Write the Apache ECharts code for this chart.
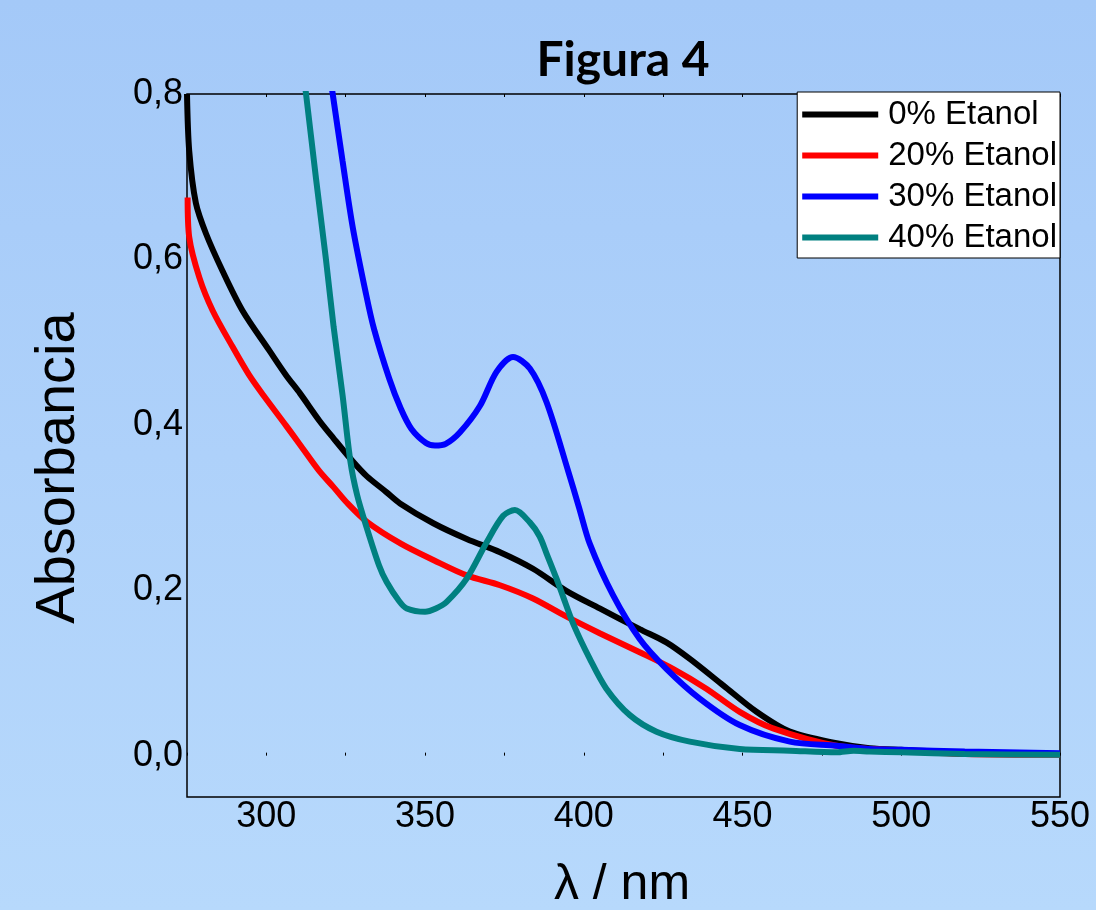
<!DOCTYPE html>
<html>
<head>
<meta charset="utf-8">
<title>Figura 4</title>
<script src="https://cdn.jsdelivr.net/npm/echarts@6/dist/echarts.min.js"></script>
<style>
  html, body { margin: 0; padding: 0; }
  body { background: linear-gradient(180deg, #a4c9f8 0%, #aed1fa 50%, #b7d9fc 100%); }
  #chart { width: 1096px; height: 910px; }
</style>
</head>
<body>
<div id="chart"></div>
<script>
// wavelength (nm) / absorbance pairs
const wl0 = [275, 275.7, 277.8, 281, 286.2, 292.5, 300.9, 306.2, 310.6, 316.7, 321.1, 327.4, 331.6, 337.7, 342.1, 352.6, 363.1, 373.6, 384, 394.6, 405, 417.6, 426, 433.4, 443.9, 454.4, 464.9, 479.6, 490, 500, 520, 550]
const abs0 = [0.800, 0.731, 0.668, 0.631, 0.586, 0.538, 0.490, 0.460, 0.438, 0.405, 0.384, 0.355, 0.338, 0.319, 0.305, 0.281, 0.262, 0.246, 0.226, 0.199, 0.178, 0.153, 0.137, 0.117, 0.085, 0.053, 0.029, 0.015, 0.009, 0.007, 0.004, 0.002]

const wl20 = [275.2, 275.7, 278.9, 283.1, 289.4, 294.6, 299, 306.2, 310.6, 316.7, 321.1, 325.1, 331.6, 342.5, 352.9, 363.1, 373.6, 384, 394.6, 405, 417.6, 428.1, 438.6, 449.1, 459.6, 479.6, 500, 520, 550]
const abs20 = [0.675, 0.627, 0.578, 0.538, 0.494, 0.460, 0.436, 0.399, 0.376, 0.344, 0.325, 0.307, 0.283, 0.256, 0.236, 0.218, 0.206, 0.190, 0.168, 0.148, 0.125, 0.105, 0.081, 0.053, 0.033, 0.012, 0.006, 0.002, 0.001]

const wl30 = [319.8, 320.9, 324, 327.2, 331.4, 333.9, 338.7, 342.3, 345.7, 350.3, 353.1, 356.5, 361, 367.3, 372.5, 377.7, 383, 388.3, 395, 398.5, 401.9, 409.2, 417.6, 426, 436.5, 449.1, 464.9, 479.6, 490, 500, 520, 550]
const abs30 = [0.830, 0.800, 0.719, 0.639, 0.558, 0.516, 0.456, 0.420, 0.395, 0.378, 0.375, 0.377, 0.391, 0.423, 0.464, 0.482, 0.468, 0.427, 0.345, 0.300, 0.256, 0.194, 0.141, 0.105, 0.069, 0.037, 0.017, 0.012, 0.008, 0.007, 0.005, 0.003]

const wl40 = [311.5, 312.5, 315.6, 318.8, 321.2, 324, 326.5, 328.6, 331.5, 335.5, 337.9, 341.8, 344.2, 350, 353.4, 356.8, 363.1, 369.4, 374.6, 378.3, 383, 386.1, 388.3, 391.4, 393.5, 396.6, 401.9, 407.1, 414.5, 422.9, 433.4, 449.1, 464.9, 479.6, 485, 490, 500, 520, 550]
const abs40 = [0.830, 0.800, 0.699, 0.599, 0.518, 0.436, 0.355, 0.315, 0.277, 0.230, 0.210, 0.187, 0.178, 0.174, 0.178, 0.186, 0.214, 0.258, 0.290, 0.297, 0.282, 0.265, 0.244, 0.214, 0.192, 0.160, 0.117, 0.081, 0.049, 0.029, 0.017, 0.008, 0.006, 0.004, 0.006, 0.005, 0.004, 0.002, 0.001]

const names = ['0% Etanol', '20% Etanol', '30% Etanol', '40% Etanol']
const colors = ['#000000', '#ff0000', '#0000ff', '#008080']
const xTicks = [300, 350, 400, 450, 500, 550]
const yTicks = [0, 0.2, 0.4, 0.6, 0.8]

const font = '"Liberation Sans", Arial, sans-serif'

function pairs(xs, ys) {
  return xs.map((x, i) => [x, ys[i]])
}

const chart = echarts.init(document.getElementById('chart'), null, { renderer: 'canvas' })

const series = [
  pairs(wl0, abs0), pairs(wl20, abs20), pairs(wl30, abs30), pairs(wl40, abs40),
].map((d, i) => ({
  name: names[i],
  type: 'line',
  data: d,
  symbol: 'none',
  smooth: 0.3,
  clip: true,
  lineStyle: { color: colors[i], width: 6 },
  itemStyle: { color: colors[i] },
}))

chart.setOption({
  animation: false,
  grid: {
    left: 187, right: 36, top: 94, bottom: 113,
    show: true, borderColor: '#000', borderWidth: 1.5, backgroundColor: 'transparent',
  },
  legend: {
    orient: 'vertical',
    right: 36,
    top: 92,
    data: names,
    icon: 'rect',
    itemWidth: 76,
    itemHeight: 6,
    itemGap: 8,
    padding: [6, 3, 4, 5],
    backgroundColor: '#ffffff',
    borderColor: '#000',
    borderWidth: 1,
    textStyle: { fontFamily: font, fontSize: 33, color: '#000', padding: [0, 0, 0, 5] },
  },
  xAxis: [{
    type: 'value',
    min: 275, max: 550, interval: 25,
    axisLine: { show: false },
    axisTick: { show: true, inside: true, length: 3, lineStyle: { color: '#000', width: 1 } },
    splitLine: { show: false },
    axisLabel: {
      fontFamily: font, fontSize: 36, color: '#000', margin: 2,
      formatter: v => (xTicks.includes(v) ? String(v) : ''),
    },
  }, {
    type: 'value', position: 'top',
    min: 275, max: 550, interval: 25,
    axisLine: { show: false },
    axisTick: { show: true, inside: true, length: 3, lineStyle: { color: '#000', width: 1 } },
    splitLine: { show: false },
    axisLabel: { show: false },
  }],
  yAxis: {
    type: 'value',
    min: -0.05, max: 0.8, interval: 0.05,
    axisLine: { show: false },
    axisTick: { show: false },
    splitLine: { show: false },
    axisLabel: {
      fontFamily: font, fontSize: 36, color: '#000', margin: 4,
      formatter: v => {
        const hit = yTicks.find(t => Math.abs(t - v) < 1e-6)
        return hit === undefined ? '' : hit.toFixed(1).replace('.', ',')
      },
    },
  },
  graphic: [
    {
      type: 'text', x: 623, y: 61,
      style: { text: 'Figura 4', font: 'bold 48px Lato, "Open Sans", sans-serif', fill: '#000', align: 'center', verticalAlign: 'middle' },
    },
    {
      type: 'text', x: 59, y: 468, rotation: Math.PI / 2,
      style: { text: 'Absorbancia', font: '56px "Liberation Sans", Arial, sans-serif', fill: '#000', align: 'center', verticalAlign: 'middle' },
    },
    {
      type: 'text', x: 622, y: 885,
      style: { text: 'λ / nm', font: '50px "Liberation Sans", Arial, sans-serif', fill: '#000', align: 'center', verticalAlign: 'middle' },
    },
  ],
  series,
})
</script>
</body>
</html>
